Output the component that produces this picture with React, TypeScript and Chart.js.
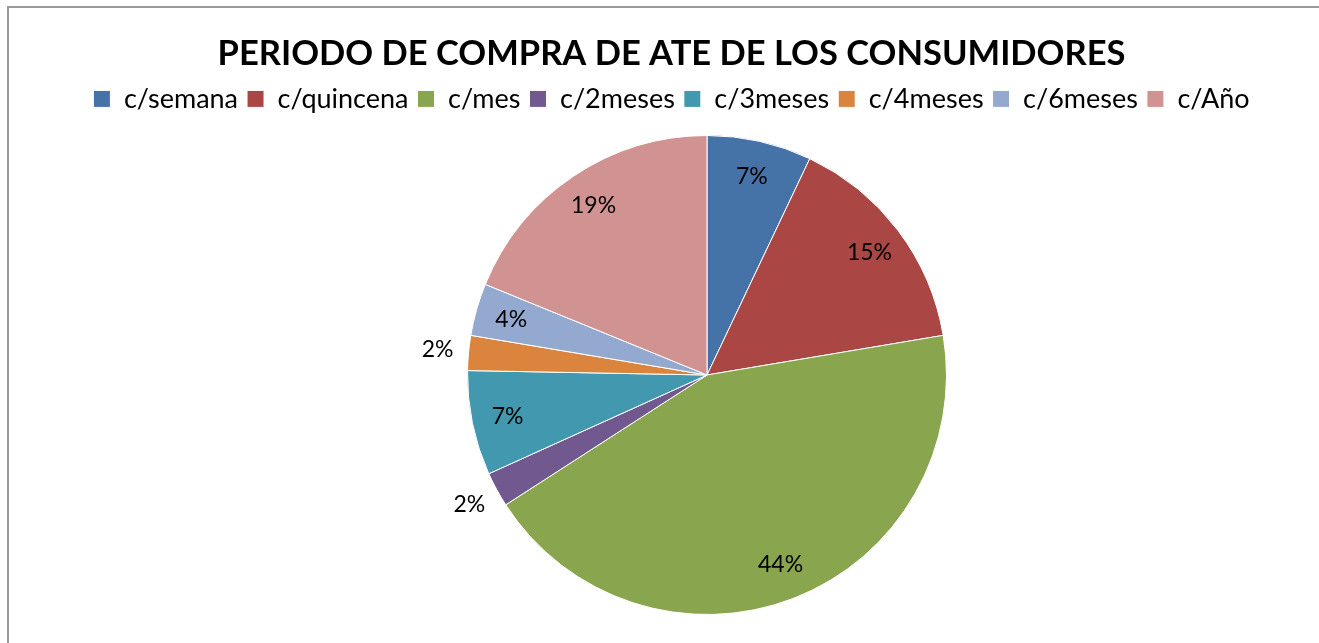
import React, { useEffect, useRef } from "react";
import { Chart, registerables } from "chart.js";

Chart.register(...registerables);

const TITLE = "PERIODO DE COMPRA DE ATE DE LOS CONSUMIDORES";
const categories = ["c/semana", "c/quincena", "c/mes", "c/2meses", "c/3meses", "c/4meses", "c/6meses", "c/Año"];
const counts = [6, 13, 37, 2, 6, 2, 3, 16];
const colors = ["#4572A7", "#AA4643", "#89A54E", "#71588F", "#4198AF", "#DB843D", "#93A9CF", "#D19392"];

const FONT = "Lato";

const pieAreaPlugin = {
  id: "pieArea",
  afterLayout(chart: any) {
    const r = 240;
    const cx = 707;
    const cy = 375;
    chart.chartArea.left = cx - r;
    chart.chartArea.right = cx + r;
    chart.chartArea.top = cy - r;
    chart.chartArea.bottom = cy + r;
    chart.chartArea.width = 2 * r;
    chart.chartArea.height = 2 * r;
  },
};

const labelPlugin = {
  id: "pctLabels",
  afterDatasetsDraw(chart: any) {
    const ctx = chart.ctx;
    const meta = chart.getDatasetMeta(0);
    const data = chart.data.datasets[0].data as number[];
    const total = data.reduce((a, b) => a + b, 0);
    ctx.save();
    ctx.font = `23px ${FONT}`;
    ctx.fillStyle = "#000";
    ctx.textAlign = "center";
    ctx.textBaseline = "middle";
    meta.data.forEach((arc: any, i: number) => {
      const pct = (data[i] / total) * 100;
      const mid = (arc.startAngle + arc.endAngle) / 2;
      const R = arc.outerRadius;
      const rr = pct < 3 ? R * 1.13 : R * 0.85;
      const x = arc.x + Math.cos(mid) * rr;
      const y = arc.y + Math.sin(mid) * rr;
      ctx.fillText(Math.round(pct) + "%", x, y);
    });
    ctx.restore();
  },
};

export default function App() {
  const ref = useRef<HTMLCanvasElement | null>(null);
  useEffect(() => {
    if (!ref.current) return;
    const chart = new Chart(ref.current, {
      type: "pie",
      data: {
        labels: categories,
        datasets: [
          {
            data: counts,
            backgroundColor: colors,
            borderColor: "#ffffff",
            borderWidth: 1,
          },
        ],
      },
      options: {
        animation: false,
        responsive: false,
        layout: { padding: { left: 24, right: 0, top: 0, bottom: 0 } },
        plugins: {
          title: {
            display: true,
            text: TITLE,
            color: "#000",
            font: { family: FONT, size: 34.5, weight: "bold", lineHeight: 1.2 },
            padding: { top: 33, bottom: 2 },
          },
          legend: {
            display: true,
            position: "top",
            labels: {
              color: "#000",
              font: { family: FONT, size: 27 },
              boxWidth: 17,
              boxHeight: 17,
              padding: 9,
            },
          },
          tooltip: { enabled: false },
        },
      },
      plugins: [pieAreaPlugin, labelPlugin],
    });
    return () => chart.destroy();
  }, []);
  return (
    <div style={{ position: "fixed", inset: 0, overflow: "hidden", background: "#fff" }}>
      <div
        style={{
          position: "absolute",
          left: 7,
          top: 6,
          width: 1400,
          height: 700,
          borderLeft: "2px solid #9a9a9a",
          borderTop: "2px solid #9a9a9a",
        }}
      />
      <canvas ref={ref} width={1319} height={643} style={{ position: "absolute", left: 0, top: 0 }} />
    </div>
  );
}
